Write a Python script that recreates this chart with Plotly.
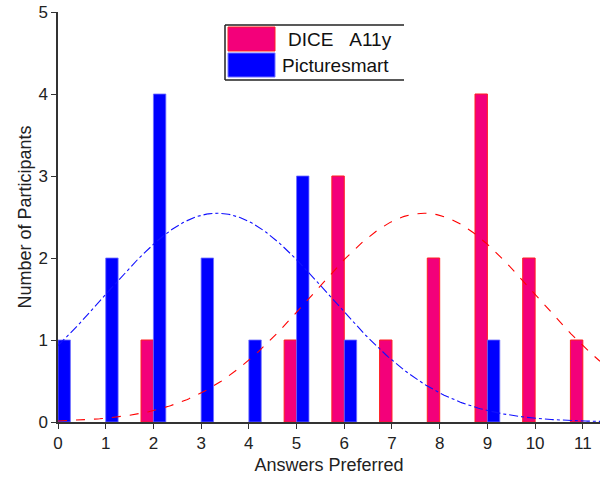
import numpy as np
import plotly.graph_objects as go

# ---- data ----
answers = [0, 1, 2, 3, 4, 5, 6, 7, 8, 9, 10, 11]
dice_counts = [0, 0, 1, 0, 0, 1, 3, 1, 2, 4, 2, 1]
picturesmart_counts = [1, 2, 4, 2, 1, 3, 1, 0, 0, 1, 0, 0]
series_names = ["DICE\u00a0\u00a0\u00a0A11y", "Picturesmart"]
x_ticks = list(range(0, 12))
y_ticks = [0, 1, 2, 3, 4, 5]

PINK = "#F3007A"
BLUE = "#0000FF"
FONT = "Liberation Sans, Arial, sans-serif"
X_MAX = 11.36


def normal_fit(xs, counts):
    """Normal distribution fitted to the histogram (mean, sample sd), scaled to counts."""
    xs = np.asarray(xs, float)
    c = np.asarray(counts, float)
    n = c.sum()
    mu = (xs * c).sum() / n
    sd = np.sqrt(((xs - mu) ** 2 * c).sum() / (n - 1))
    grid = np.linspace(0, X_MAX, 300)
    return grid, n / (sd * np.sqrt(2 * np.pi)) * np.exp(-((grid - mu) ** 2) / (2 * sd ** 2))


fig = go.Figure()

dx, dy = zip(*[(a, v) for a, v in zip(answers, dice_counts) if v > 0])
px_, py_ = zip(*[(a, v) for a, v in zip(answers, picturesmart_counts) if v > 0])

fig.add_trace(go.Bar(x=list(dx), y=list(dy), width=0.26, offset=-0.26,
                     marker=dict(color=PINK, line=dict(color="#FF2020", width=1)),
                     name=series_names[0], showlegend=False))
fig.add_trace(go.Bar(x=list(px_), y=list(py_), width=0.26, offset=0.0,
                     marker=dict(color=BLUE, line=dict(color="#7070FF", width=0.8)),
                     name=series_names[1], showlegend=False))

gx, gy = normal_fit(answers, dice_counts)
fig.add_trace(go.Scatter(x=gx, y=gy, mode="lines", showlegend=False,
                         line=dict(color="#FF0000", width=1.1, dash="dash")))
gx, gy = normal_fit(answers, picturesmart_counts)
fig.add_trace(go.Scatter(x=gx, y=gy, mode="lines", showlegend=False,
                         line=dict(color="#1010FF", width=1.1, dash="dashdot")))

# ---- page geometry (body margin removed via post_script) ----
W, H = 600, 482
ml, mr, mt, mb = 58, 0, 12, 482 - 422
pw, ph = W - ml - mr, H - mt - mb
L = dict(xref="paper", yref="paper")


def px2x(p):
    return (p - ml) / pw


def px2y(p):
    return (H - mb - p) / ph


# ---- hand-made legend (large colour swatches as in the reference) ----
for x0, y0, x1, y1 in [(225, 25, 404, 25), (225, 80, 404, 80), (225, 25, 225, 80)]:
    fig.add_shape(type="line", x0=px2x(x0), y0=px2y(y0), x1=px2x(x1), y1=px2y(y1),
                  line=dict(color="#222222", width=1.5), **L)
fig.add_shape(type="rect", x0=px2x(228), x1=px2x(275), y0=px2y(51), y1=px2y(27),
              fillcolor=PINK, line=dict(color="#FF2020", width=1), **L)
fig.add_shape(type="rect", x0=px2x(228), x1=px2x(275), y0=px2y(77), y1=px2y(53),
              fillcolor=BLUE, line=dict(color="#7070FF", width=1), **L)
fig.add_annotation(x=px2x(286), y=px2y(40), text=series_names[0], showarrow=False,
                   xanchor="left", yanchor="middle", font=dict(family=FONT, size=19, color="#111"), **L)
fig.add_annotation(x=px2x(280), y=px2y(65), text=series_names[1], showarrow=False,
                   xanchor="left", yanchor="middle", font=dict(family=FONT, size=19, color="#111"), **L)

axis_common = dict(showline=True, linecolor="#333333", linewidth=1.5, ticks="outside",
                   ticklen=5, tickwidth=1.2, tickcolor="#333333", showgrid=False,
                   zeroline=False, automargin=False, ticklabeloverflow="allow",
                   tickfont=dict(family=FONT, size=17, color="#222"))

fig.update_layout(
    width=W, height=H, barmode="overlay",
    margin=dict(l=ml, r=mr, t=mt, b=mb),
    plot_bgcolor="white", paper_bgcolor="white",
    font=dict(family=FONT, color="#222"),
    xaxis=dict(range=[0, X_MAX], tickvals=x_ticks,
               title=dict(text="Answers Preferred", font=dict(family=FONT, size=18, color="#222"), standoff=6),
               **axis_common),
    yaxis=dict(range=[0, 5], tickvals=y_ticks,
               title=dict(text="Number of Participants", font=dict(family=FONT, size=18, color="#222"), standoff=2),
               **axis_common),
)

fig.write_html("out.html", config={"displayModeBar": False},
               post_script="document.body.style.margin='0px';")
